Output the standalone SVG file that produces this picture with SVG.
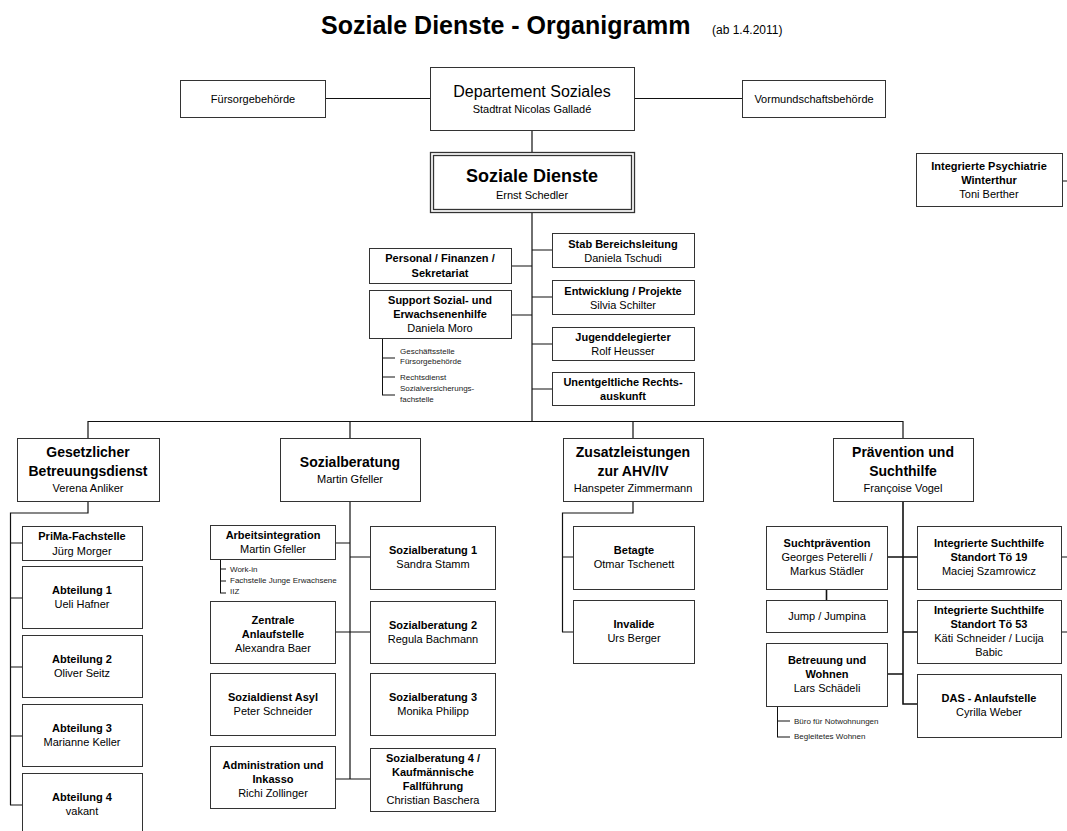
<svg xmlns="http://www.w3.org/2000/svg" width="1067" height="831" viewBox="0 0 1067 831">
<style>
.bx{fill:#fff;stroke:#333;stroke-width:1}
.ln{fill:none;stroke:#111;stroke-width:1.2}
text{font-family:"Liberation Sans",Arial,sans-serif;fill:#000}
.c{text-anchor:middle}
.n{font-size:11px}
.b{font-size:11px;font-weight:bold}
.d{font-size:14px;font-weight:bold}
.s{font-size:8px;fill:#222}
</style>
<rect width="1067" height="831" fill="#fff"/>
<text x="321" y="34" style="font-size:25px;font-weight:bold">Soziale Dienste - Organigramm</text>
<text x="712" y="34" style="font-size:12px">(ab 1.4.2011)</text>

<g id="connectors" class="ln">
<path d="M325 98.5H430M634 98.5H742M532 130V152M532 212V421"/>
<path d="M532 250H552M532 297H552M532 344H552M532 389H552M511 266H532M511 315H532"/>
<path d="M382.5 338V395M382 358H395M382 377H395M382 395H395" style="stroke-width:1"/>
<path d="M88 421.5H903M88 421V438M350 421V438M633 421V438M903 421V438"/>
<path d="M88 501V513H10.5V805M10 543H22M10 598H22M10 667H22M10 736H22M10 805H22"/>
<path d="M350 501V779M335 543H350M350 557H370M335 632H370M335 779H370"/>
<path d="M220.5 559V593M220 569H226M220 581H226M220 593H226" style="stroke-width:1"/>
<path d="M633 501V513H562.5V632M562 557H573M562 632H573"/>
<path d="M903 501V704H917M887 557H917M903 632H917M887 674H903M826.5 589V600" style="stroke-width:1.6"/>
<path d="M777.5 706V737M777 721H790M777 737H790" style="stroke-width:1"/>
<path d="M1061 557H1067M1061 632H1067M1062 181H1067"/>
</g>

<g id="fuersorge"><rect class="bx" x="180.5" y="80.5" width="145" height="37"/><text class="c n" x="253" y="103">Fürsorgebehörde</text></g>
<g id="departement"><rect class="bx" x="430.5" y="67.5" width="204" height="63"/><text class="c" x="532" y="97" style="font-size:16px">Departement Soziales</text><text class="c n" x="532" y="113">Stadtrat Nicolas Galladé</text></g>
<g id="vormund"><rect class="bx" x="742.5" y="80.5" width="143" height="37"/><text class="c n" x="814" y="103">Vormundschaftsbehörde</text></g>

<g id="soziale-dienste"><rect class="bx" x="430.5" y="152.5" width="204" height="60" style="stroke-width:1.3"/><rect class="bx" x="433.5" y="155.5" width="198" height="54" style="stroke-width:1.3"/><text class="c" x="532" y="182" style="font-size:18px;font-weight:bold">Soziale Dienste</text><text class="c n" x="532" y="199">Ernst Schedler</text></g>

<g id="psychiatrie"><rect class="bx" x="916.5" y="153.5" width="146" height="53"/><text class="c b" x="989" y="170">Integrierte Psychiatrie</text><text class="c b" x="989" y="184">Winterthur</text><text class="c n" x="989" y="198">Toni Berther</text></g>

<g id="stab"><rect class="bx" x="552.5" y="233.5" width="142" height="34"/><text class="c b" x="623" y="248">Stab Bereichsleitung</text><text class="c n" x="623" y="262">Daniela Tschudi</text></g>
<g id="entwicklung"><rect class="bx" x="552.5" y="280.5" width="142" height="34"/><text class="c b" x="623" y="295">Entwicklung / Projekte</text><text class="c n" x="623" y="309">Silvia Schilter</text></g>
<g id="jugend"><rect class="bx" x="552.5" y="327.5" width="142" height="33"/><text class="c b" x="623" y="341">Jugenddelegierter</text><text class="c n" x="623" y="355">Rolf Heusser</text></g>
<g id="rechtsauskunft"><rect class="bx" x="552.5" y="372.5" width="142" height="33"/><text class="c b" x="623" y="386">Unentgeltliche Rechts-</text><text class="c b" x="623" y="400">auskunft</text></g>

<g id="personal"><rect class="bx" x="369.5" y="248.5" width="142" height="35"/><text class="c b" x="440" y="262">Personal / Finanzen /</text><text class="c b" x="440" y="277">Sekretariat</text></g>
<g id="support"><rect class="bx" x="369.5" y="290.5" width="142" height="48"/><text class="c b" x="440" y="304">Support Sozial- und</text><text class="c b" x="440" y="318">Erwachsenenhilfe</text><text class="c n" x="440" y="332">Daniela Moro</text>
<text class="s" x="400" y="354">Geschäftsstelle</text><text class="s" x="400" y="364">Fürsorgebehörde</text><text class="s" x="400" y="380">Rechtsdienst</text><text class="s" x="400" y="391">Sozialversicherungs-</text><text class="s" x="400" y="402">fachstelle</text></g>

<g id="gesetzlicher"><rect class="bx" x="17.5" y="438.5" width="142" height="63"/><text class="c d" x="88" y="457">Gesetzlicher</text><text class="c d" x="88" y="476">Betreuungsdienst</text><text class="c n" x="88" y="492">Verena Anliker</text></g>
<g id="sozialberatung"><rect class="bx" x="280.5" y="438.5" width="140" height="63"/><text class="c d" x="350" y="467">Sozialberatung</text><text class="c n" x="350" y="483">Martin Gfeller</text></g>
<g id="zusatzleistungen"><rect class="bx" x="563.5" y="438.5" width="140" height="63"/><text class="c d" x="633" y="457">Zusatzleistungen</text><text class="c d" x="633" y="476">zur AHV/IV</text><text class="c n" x="633" y="492">Hanspeter Zimmermann</text></g>
<g id="praevention"><rect class="bx" x="833.5" y="438.5" width="140" height="63"/><text class="c d" x="903" y="457">Prävention und</text><text class="c d" x="903" y="476">Suchthilfe</text><text class="c n" x="903" y="492">Françoise Vogel</text></g>

<g id="prima"><rect class="bx" x="22.5" y="526.5" width="120" height="34"/><text class="c b" x="82" y="540">PriMa-Fachstelle</text><text class="c n" x="82" y="555">Jürg Morger</text></g>
<g id="abt1"><rect class="bx" x="22.5" y="566.5" width="120" height="62"/><text class="c b" x="82" y="594">Abteilung 1</text><text class="c n" x="82" y="608">Ueli Hafner</text></g>
<g id="abt2"><rect class="bx" x="22.5" y="635.5" width="120" height="62"/><text class="c b" x="82" y="663">Abteilung 2</text><text class="c n" x="82" y="677">Oliver Seitz</text></g>
<g id="abt3"><rect class="bx" x="22.5" y="704.5" width="120" height="62"/><text class="c b" x="82" y="732">Abteilung 3</text><text class="c n" x="82" y="746">Marianne Keller</text></g>
<g id="abt4"><rect class="bx" x="22.5" y="773.5" width="120" height="62"/><text class="c b" x="82" y="801">Abteilung 4</text><text class="c n" x="82" y="815">vakant</text></g>

<g id="arbeitsintegration"><rect class="bx" x="210.5" y="525.5" width="125" height="34"/><text class="c b" x="273" y="539">Arbeitsintegration</text><text class="c n" x="273" y="553">Martin Gfeller</text>
<text class="s" x="230" y="572">Work-in</text><text class="s" x="230" y="583">Fachstelle Junge Erwachsene</text><text class="s" x="230" y="594">IIZ</text></g>
<g id="zentrale"><rect class="bx" x="210.5" y="601.5" width="125" height="62"/><text class="c b" x="273" y="624">Zentrale</text><text class="c b" x="273" y="638">Anlaufstelle</text><text class="c n" x="273" y="652">Alexandra Baer</text></g>
<g id="asyl"><rect class="bx" x="210.5" y="673.5" width="125" height="62"/><text class="c b" x="273" y="701">Sozialdienst Asyl</text><text class="c n" x="273" y="715">Peter Schneider</text></g>
<g id="administration"><rect class="bx" x="210.5" y="746.5" width="125" height="62"/><text class="c b" x="273" y="769">Administration und</text><text class="c b" x="273" y="783">Inkasso</text><text class="c n" x="273" y="797">Richi Zollinger</text></g>
<g id="sb1"><rect class="bx" x="370.5" y="526.5" width="125" height="63"/><text class="c b" x="433" y="554">Sozialberatung 1</text><text class="c n" x="433" y="568">Sandra Stamm</text></g>
<g id="sb2"><rect class="bx" x="370.5" y="601.5" width="125" height="62"/><text class="c b" x="433" y="629">Sozialberatung 2</text><text class="c n" x="433" y="643">Regula Bachmann</text></g>
<g id="sb3"><rect class="bx" x="370.5" y="673.5" width="125" height="62"/><text class="c b" x="433" y="701">Sozialberatung 3</text><text class="c n" x="433" y="715">Monika Philipp</text></g>
<g id="sb4"><rect class="bx" x="370.5" y="748.5" width="125" height="63"/><text class="c b" x="433" y="762">Sozialberatung 4 /</text><text class="c b" x="433" y="776">Kaufmännische</text><text class="c b" x="433" y="790">Fallführung</text><text class="c n" x="433" y="804">Christian Baschera</text></g>

<g id="betagte"><rect class="bx" x="573.5" y="526.5" width="121" height="63"/><text class="c b" x="634" y="554">Betagte</text><text class="c n" x="634" y="568">Otmar Tschenett</text></g>
<g id="invalide"><rect class="bx" x="573.5" y="600.5" width="121" height="63"/><text class="c b" x="634" y="628">Invalide</text><text class="c n" x="634" y="642">Urs Berger</text></g>

<g id="suchtpraevention"><rect class="bx" x="766.5" y="526.5" width="121" height="63"/><text class="c b" x="827" y="547">Suchtprävention</text><text class="c n" x="827" y="561">Georges Peterelli /</text><text class="c n" x="827" y="575">Markus Städler</text></g>
<g id="jump"><rect class="bx" x="766.5" y="600.5" width="121" height="32"/><text class="c n" x="827" y="620">Jump / Jumpina</text></g>
<g id="betreuung"><rect class="bx" x="766.5" y="643.5" width="121" height="63"/><text class="c b" x="827" y="664">Betreuung und</text><text class="c b" x="827" y="678">Wohnen</text><text class="c n" x="827" y="692">Lars Schädeli</text>
<text class="s" x="794" y="724">Büro für Notwohnungen</text><text class="s" x="794" y="739">Begleitetes Wohnen</text></g>
<g id="ish19"><rect class="bx" x="917.5" y="526.5" width="144" height="63"/><text class="c b" x="989" y="547">Integrierte Suchthilfe</text><text class="c b" x="989" y="561">Standort Tö 19</text><text class="c n" x="989" y="575">Maciej Szamrowicz</text></g>
<g id="ish53"><rect class="bx" x="917.5" y="600.5" width="144" height="63"/><text class="c b" x="989" y="614">Integrierte Suchthilfe</text><text class="c b" x="989" y="628">Standort Tö 53</text><text class="c n" x="989" y="642">Käti Schneider / Lucija</text><text class="c n" x="989" y="656">Babic</text></g>
<g id="das"><rect class="bx" x="917.5" y="674.5" width="144" height="63"/><text class="c b" x="989" y="702">DAS - Anlaufstelle</text><text class="c n" x="989" y="716">Cyrilla Weber</text></g>
</svg>
